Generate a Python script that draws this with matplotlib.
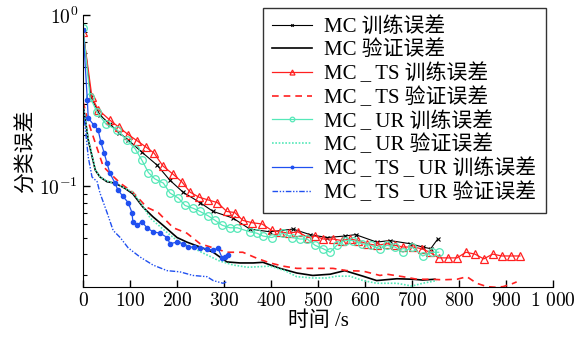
import matplotlib
matplotlib.use('Agg')
import matplotlib.pyplot as plt
from matplotlib.ticker import FixedLocator, FixedFormatter, LogLocator, NullFormatter

plt.rcParams['font.family'] = ['Liberation Serif', 'Noto Sans CJK SC']
plt.rcParams['mathtext.fontset'] = 'cm'
plt.rcParams['axes.unicode_minus'] = False

# MC 训练误差
mc_tr_t = [0, 17, 36, 57, 77, 96, 125, 157, 185, 213, 249, 277, 319, 355, 398, 447,
           483, 519, 557, 580, 625, 653, 696, 723, 740, 755]
mc_tr_e = [0.82, 0.33, 0.26, 0.23, 0.205, 0.186, 0.158, 0.133, 0.108, 0.092, 0.080, 0.071,
           0.065, 0.056, 0.054, 0.056, 0.052, 0.050, 0.051, 0.052, 0.047, 0.048, 0.046,
           0.044, 0.043, 0.049]
# MC 验证误差
mc_va_t = [0, 11, 26, 36, 51, 68, 89, 106, 128, 149, 170, 200, 221, 249, 277, 306, 334,
           362, 383, 419, 455, 489, 526, 557, 596, 625, 668, 702, 723, 749]
mc_va_e = [0.30, 0.186, 0.124, 0.113, 0.106, 0.104, 0.097, 0.090, 0.075, 0.066, 0.059,
           0.050, 0.047, 0.044, 0.041, 0.036, 0.0355, 0.0355, 0.0358, 0.033, 0.031, 0.030,
           0.0305, 0.032, 0.0297, 0.028, 0.0287, 0.0285, 0.0282, 0.0285]
# MC_TS 训练误差
ts_tr_t = [0, 19, 32, 57, 77, 96, 115, 134, 151, 170, 192, 210, 228, 247, 266, 286, 306,
           323, 340, 360, 381, 402, 419, 438, 457, 479, 494, 511, 532, 551, 568, 585, 604,
           625, 647, 664, 681, 702, 721, 738, 757, 777, 796, 815, 834, 853, 872, 891, 910, 930]
ts_tr_e = [0.80, 0.33, 0.28, 0.243, 0.22, 0.20, 0.184, 0.169, 0.156, 0.131, 0.117, 0.106,
           0.092, 0.086, 0.083, 0.080, 0.071, 0.070, 0.063, 0.061, 0.060, 0.055, 0.054,
           0.053, 0.054, 0.050, 0.051, 0.049, 0.049, 0.048, 0.049, 0.048, 0.046, 0.045,
           0.046, 0.045, 0.044, 0.044, 0.043, 0.041, 0.038, 0.038, 0.038, 0.041, 0.040,
           0.0375, 0.040, 0.039, 0.039, 0.039]
# MC_TS 验证误差
ts_va_t = [0, 15, 43, 57, 79, 106, 136, 160, 192, 221, 249, 277, 306, 340, 370, 398, 426,
           455, 489, 532, 562, 596, 632, 647, 681, 711, 738, 766, 796, 817, 838, 860, 877,
           894, 913, 923]
ts_va_e = [0.31, 0.22, 0.13, 0.119, 0.104, 0.092, 0.075, 0.070, 0.057, 0.053, 0.046,
           0.0435, 0.041, 0.041, 0.0378, 0.0355, 0.034, 0.033, 0.033, 0.033, 0.032,
           0.0318, 0.030, 0.0305, 0.0295, 0.0285, 0.0285, 0.0283, 0.0285, 0.0295, 0.027,
           0.0258, 0.0256, 0.0258, 0.0268, 0.0275]
# MC_UR 训练误差
ur_tr_t = [0, 15, 30, 49, 72, 93, 111, 125, 139, 153, 171, 185, 203, 217, 235, 249, 266,
           281, 296, 313, 328, 355, 370, 383, 402, 426, 445, 462, 477, 494, 511, 526, 540,
           557, 575, 594, 613, 632, 647, 664, 681, 700, 723, 743, 757]
ur_tr_e = [0.84, 0.33, 0.27, 0.23, 0.213, 0.186, 0.165, 0.142, 0.12, 0.11, 0.104, 0.091,
           0.085, 0.077, 0.074, 0.071, 0.067, 0.063, 0.059, 0.057, 0.057, 0.054, 0.053,
           0.051, 0.050, 0.053, 0.050, 0.049, 0.049, 0.045, 0.043, 0.041, 0.045, 0.048,
           0.048, 0.046, 0.045, 0.043, 0.045, 0.044, 0.041, 0.044, 0.039, 0.041, 0.041]
# MC_UR 验证误差
ur_va_t = [0, 11, 26, 36, 51, 70, 90, 106, 125, 143, 170, 200, 230, 260, 290, 320, 350,
           398, 430, 455, 489, 519, 540, 568, 596, 625, 668, 700, 723, 753]
ur_va_e = [0.30, 0.19, 0.125, 0.113, 0.107, 0.103, 0.097, 0.092, 0.078, 0.065, 0.056,
           0.048, 0.044, 0.040, 0.0365, 0.0345, 0.0335, 0.034, 0.032, 0.0295, 0.029, 0.029,
           0.0297, 0.0297, 0.028, 0.027, 0.027, 0.026, 0.027, 0.028]
# MC_TS_UR 训练误差
tsur_tr_t = [0, 9, 11, 23, 32, 38, 45, 51, 57, 68, 74, 85, 96, 104, 106, 115, 125, 136,
             149, 164, 179, 185, 200, 213, 223, 236, 249, 264, 277, 287, 296, 302, 309]
tsur_tr_e = [0.82, 0.32, 0.25, 0.227, 0.213, 0.18, 0.156, 0.136, 0.119, 0.104, 0.095,
             0.087, 0.080, 0.070, 0.062, 0.059, 0.062, 0.057, 0.054, 0.053, 0.050, 0.046,
             0.047, 0.046, 0.044, 0.044, 0.0435, 0.043, 0.042, 0.0435, 0.038, 0.0385, 0.0395]
# MC_TS_UR 验证误差
tsur_va_t = [0, 11, 19, 30, 36, 51, 64, 79, 96, 121, 149, 179, 206, 234, 264, 277, 298, 306]
tsur_va_e = [0.29, 0.148, 0.113, 0.106, 0.091, 0.070, 0.055, 0.050, 0.0435, 0.0385,
             0.0345, 0.032, 0.0315, 0.030, 0.0295, 0.028, 0.027, 0.0275]

us = '\u2009_\u2009'
labels = ['MC 训练误差', 'MC 验证误差',
          'MC' + us + 'TS 训练误差', 'MC' + us + 'TS 验证误差',
          'MC' + us + 'UR 训练误差', 'MC' + us + 'UR 验证误差',
          'MC' + us + 'TS' + us + 'UR 训练误差', 'MC' + us + 'TS' + us + 'UR 验证误差']

red = '#ff2020'
cyan = '#55e8b8'
blue = '#2050f0'

fig = plt.figure(figsize=(5.85, 3.42), dpi=100)
ax = fig.add_axes([0.142, 0.161, 0.803, 0.795])

ax.plot(mc_tr_t, mc_tr_e, color='black', lw=0.8, marker='x', ms=3, mew=0.8, label=labels[0])
ax.plot(mc_va_t, mc_va_e, color='black', lw=1.2, label=labels[1])
ax.plot(ts_tr_t, ts_tr_e, color=red, lw=0.9, marker='^', ms=6, mfc='none', mew=0.9, label=labels[2])
ax.plot(ts_va_t, ts_va_e, color=red, lw=1.2, ls=(0, (4, 3)), label=labels[3])
ax.plot(ur_tr_t, ur_tr_e, color=cyan, lw=0.9, marker='o', ms=5.5, mfc='none', mew=0.9, label=labels[4])
ax.plot(ur_va_t, ur_va_e, color=cyan, lw=1.2, ls=(0, (1, 1)), label=labels[5])
ax.plot(tsur_tr_t, tsur_tr_e, color=blue, lw=0.9, marker='o', ms=3, label=labels[6])
ax.plot(tsur_va_t, tsur_va_e, color=blue, lw=1.0, ls=(0, (4, 1.2, 1, 1.2, 1, 1.2)), label=labels[7])

ax.set_yscale('log')
ax.set_xlim(0, 1000)
ax.set_ylim(0.0257, 1.0)

xt = [0, 100, 200, 300, 400, 500, 600, 700, 800, 900, 1000]
xtl = [r'$%d$' % v for v in xt[:-1]] + [r'$1\ 000$']
ax.xaxis.set_major_locator(FixedLocator(xt))
ax.xaxis.set_major_formatter(FixedFormatter(xtl))
ax.yaxis.set_major_locator(FixedLocator([0.1, 1.0]))
ax.yaxis.set_major_formatter(FixedFormatter([r'$10^{-1}$', r'$10^{0}$']))
ax.yaxis.set_minor_locator(LogLocator(base=10, subs=range(2, 10)))
ax.yaxis.set_minor_formatter(NullFormatter())

ax.spines['top'].set_visible(False)
ax.spines['right'].set_visible(False)
ax.tick_params(direction='in', labelsize=14, length=5, width=1.0)
ax.tick_params(which='minor', direction='in', length=3, width=0.8)

ax.set_xlabel('时间 /s', fontsize=15, labelpad=1)
ax.set_ylabel('分类误差', fontsize=15, labelpad=2)

leg = ax.legend(loc='upper right', bbox_to_anchor=(0.985, 1.026), borderaxespad=0,
                fontsize=15, frameon=True, fancybox=False, edgecolor='black',
                handlelength=1.9, handletextpad=0.6, labelspacing=0.15, borderpad=0.45,
                markerscale=0.6)
leg.get_frame().set_linewidth(1.0)

fig.savefig('out.png', dpi=100)
